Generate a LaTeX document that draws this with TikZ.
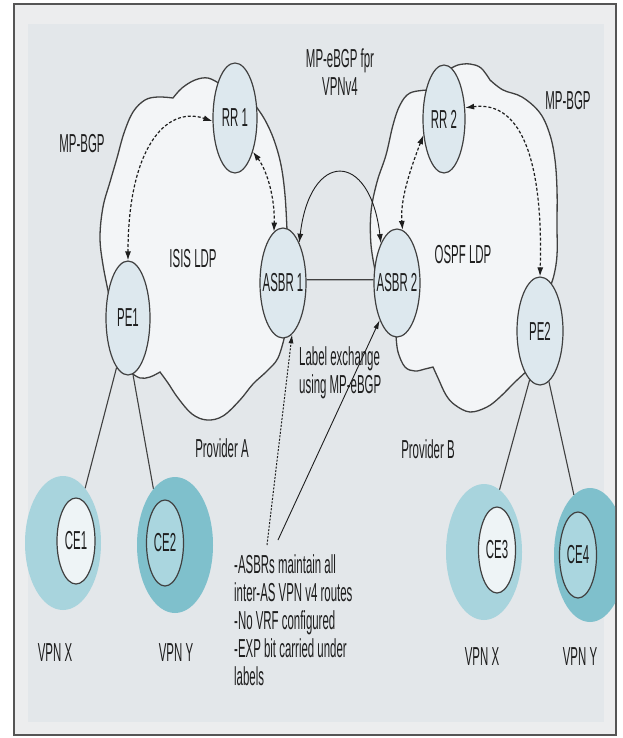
\documentclass[tikz,border=0pt]{standalone}
\usepackage{fontspec}
\setmainfont{Liberation Sans}[FakeStretch=0.44]
\usetikzlibrary{shapes.geometric,arrows.meta}
\definecolor{bgc}{HTML}{E3E7EA}
\definecolor{bandc}{HTML}{ECEDEE}
\definecolor{framec}{HTML}{555555}
\definecolor{edgec}{HTML}{404040}
\definecolor{ink}{HTML}{1E1E1E}
\definecolor{cloudc}{HTML}{F3F5F7}
\definecolor{routerc}{HTML}{DDE8EE}
\definecolor{halolt}{HTML}{A8D4DD}
\definecolor{halodk}{HTML}{7FC0CC}
\definecolor{innerlt}{HTML}{EEF4F6}
\definecolor{innerdk}{HTML}{AAD6DF}
\tikzset{
  lbl/.style={font=\fontsize{26}{28}\selectfont, text=ink, inner sep=0pt},
  router/.style={ellipse, draw=edgec, line width=1.2pt, fill=routerc, inner sep=0pt},
  halo/.style={ellipse, inner sep=0pt, draw=none},
  cenode/.style={ellipse, draw=edgec, line width=1.2pt, inner sep=0pt, minimum width=37pt, minimum height=86pt},
  cloudpath/.style={draw=edgec, line width=1.3pt, fill=cloudc},
  dasharr/.style={draw=ink, line width=1.2pt, dash pattern=on 3pt off 2pt, {Latex[length=9pt,width=6pt]}-{Latex[length=9pt,width=6pt]}},
  solidarr/.style={draw=ink, line width=0.9pt, {Latex[length=9pt,width=6pt]}-{Latex[length=9pt,width=6pt]}},
  link/.style={draw=edgec, line width=1.1pt}
}
\begin{document}
\begin{tikzpicture}[x=1pt,y=-1pt]
\useasboundingbox (0,0) rectangle (623,738);
\fill[white] (0,0) rectangle (623,738);
\fill[bandc] (14,4) rectangle (616,735);
\fill[bgc] (28,24) rectangle (604,722);
\draw[framec, line width=1.5pt] (14,4) rectangle (616,735);

% left cloud
\path[cloudpath]
  plot[smooth, tension=0.6] coordinates {(110,300) (103,265) (100,237) (103,207) (110,182) (117,158) (124,133) (133,112) (145,100) (158,97) (173,98)}
  -- plot[smooth, tension=0.6] coordinates {(173,98) (182,88) (195,80) (208,78) (220,84)}
  -- plot[smooth, tension=0.6] coordinates {(255,105) (265,120) (274,140) (281,165) (285,195) (287,230)}
  -- plot[smooth, tension=0.6] coordinates {(285,335) (278,358) (267,371) (253,384) (240,400) (223,416) (207,420) (192,414) (178,398) (168,383) (160,372)}
  -- plot[smooth, tension=0.6] coordinates {(160,372) (150,377) (140,378) (130,372)}
  -- cycle;

% right cloud
\path[cloudpath]
  plot[smooth, tension=0.6] coordinates {(376,275) (371,245) (371,212) (377,182) (386,155) (393,125) (400,105) (410,93) (428,90)}
  -- plot[smooth, tension=0.6] coordinates {(448,70) (458,65) (470,64) (481,68) (490,80)}
  -- plot[smooth, tension=0.6] coordinates {(490,80) (503,90) (522,97) (540,113) (550,135) (555,160) (557,190) (557,225) (557,255) (554,275) (549,290)}
  -- plot[smooth, tension=0.6] coordinates {(528,370) (515,382) (500,397) (487,407) (470,412) (455,405) (446,395) (438,378) (433,367)}
  -- plot[smooth, tension=0.6] coordinates {(433,367) (425,369) (415,371) (405,367) (398,352) (396,335)}
  -- cycle;

% routers
\node[router, minimum width=44pt, minimum height=110pt] (RR1) at (235,118) {};
\node[router, minimum width=42pt, minimum height=108pt] (RR2) at (444,119) {};
\node[router, minimum width=46pt, minimum height=110pt] (ASBR1) at (283,283) {};
\node[router, minimum width=46pt, minimum height=108pt] (ASBR2) at (397,283) {};
\node[router, minimum width=44pt, minimum height=114pt] (PE1) at (128,318) {};
\node[router, minimum width=46pt, minimum height=108pt] (PE2) at (540,331) {};

% CE halos
\begin{scope}
\clip (15,5) rectangle (615,734);
\node[halo, fill=halolt, minimum width=76pt, minimum height=134pt] (CE1h) at (63,543) {};
\node[halo, fill=halodk, minimum width=76pt, minimum height=136pt] (CE2h) at (175,545) {};
\node[halo, fill=halolt, minimum width=76pt, minimum height=136pt] (CE3h) at (484,552) {};
\node[halo, fill=halodk, minimum width=72pt, minimum height=134pt] (CE4h) at (590,555) {};
\end{scope}
\node[cenode, fill=innerlt, minimum width=38pt] (CE1) at (76,541) {};
\node[cenode, fill=innerdk] (CE2) at (165,543) {};
\node[cenode, fill=innerlt] (CE3) at (497,550) {};
\node[cenode, fill=innerdk] (CE4) at (578,555) {};

% PE to CE links
\draw[link] (PE1.-103) -- (CE1h.68);
\draw[link] (PE1.-85) -- (CE2h.111);
\draw[link] (PE2.-102) -- (CE3h.76);
\draw[link] (PE2.-80) -- (CE4h.105);

% ASBR link
\draw[link, line width=1.3pt] (ASBR1.8) -- (ASBR2.172);

% dashed MP-BGP sessions
\draw[dasharr] (PE1.north) .. controls (128,150) and (165,105) .. (RR1.188);
\draw[dasharr] (RR1.-62) .. controls (268,172) and (275,200) .. (ASBR1.100);
\draw[dasharr] (RR2.-142) .. controls (410,170) and (400,200) .. (ASBR2.84);
\draw[dasharr] (RR2.28) .. controls (525,100) and (543,170) .. (PE2.north);

% eBGP arc
\draw[solidarr] (ASBR1.68) .. controls (310,150) and (370,150) .. (ASBR2.112);

% label exchange pointers
\coordinate (lx1) at (267,545);
\coordinate (lx2) at (278,540);
\draw[draw=ink, line width=1pt, dash pattern=on 2pt off 1.5pt, -{Latex[length=9pt,width=5pt]}] (lx1) -- (ASBR1.-80);
\draw[draw=ink, line width=0.9pt, -{Latex[length=9pt,width=5pt]}] (lx2) -- (ASBR2.-115);

% router texts
\node[lbl] (RR1t) at (RR1) {RR 1};
\node[lbl] (RR2t) at (RR2) {RR 2};
\node[lbl] (ASBR1t) at (ASBR1) {ASBR 1};
\node[lbl] (ASBR2t) at (ASBR2) {ASBR 2};
\node[lbl] (PE1t) at (PE1) {PE1};
\node[lbl] (PE2t) at (PE2) {PE2};
\node[lbl] (CE1t) at (CE1) {CE1};
\node[lbl] (CE2t) at (CE2) {CE2};
\node[lbl] (CE3t) at (CE3) {CE3};
\node[lbl] (CE4t) at (CE4) {CE4};

% free labels
\node[lbl] (mpbgpL) at (82,144) {MP-BGP};
\node[lbl] (mpbgpR) at (568,101) {MP-BGP};
\node[lbl, align=center] (mpebgp) at (340,72) {MP-eBGP fpr\\VPNv4};
\node[lbl] (isis) at (193,259) {ISIS LDP};
\node[lbl] (ospf) at (463,255) {OSPF LDP};
\node[lbl] (provA) at (222,448) {Provider A};
\node[lbl] (provB) at (428,449) {Provider B};
\node[lbl, align=left, anchor=west] (lxtxt) at (299,373) {Label exchange\\using MP-eBGP};
\node[lbl, align=left, anchor=west] (notes) at (234,620) {-ASBRs maintain all\\inter-AS VPN v4 routes\\-No VRF configured\\-EXP bit carried under\\labels};
\node[lbl] (vpnx1) at (55,653) {VPN X};
\node[lbl] (vpny1) at (176,653) {VPN Y};
\node[lbl] (vpnx2) at (482,657) {VPN X};
\node[lbl] (vpny2) at (580,657) {VPN Y};
\end{tikzpicture}
\end{document}
